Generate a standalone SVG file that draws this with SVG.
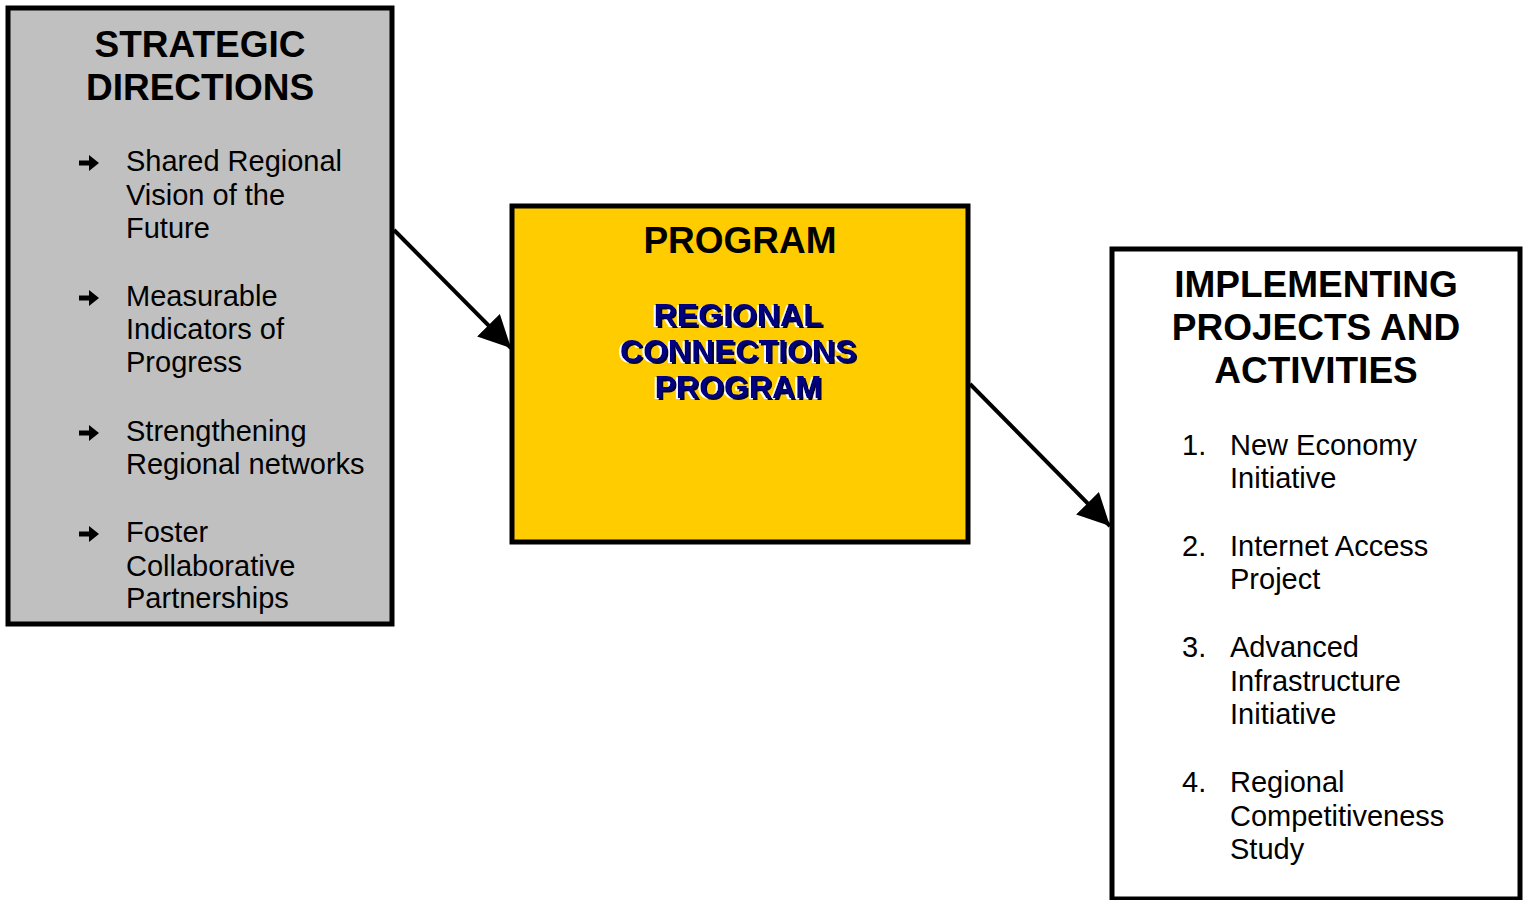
<svg xmlns="http://www.w3.org/2000/svg" width="1527" height="900" viewBox="0 0 1527 900">
<defs>
<style>
.box{stroke:#000;stroke-width:5}
.h{font-family:"Liberation Sans",Arial,sans-serif;font-weight:bold;font-size:37px;text-anchor:middle;fill:#000}
.t{font-family:"Liberation Sans",Arial,sans-serif;font-size:29px;fill:#000}
.rc{font-family:"Liberation Sans",Arial,sans-serif;font-weight:bold;font-size:32px;text-anchor:middle;fill:#000080;filter:url(#emb)}
.conn{stroke:#000;stroke-width:4;fill:none}
</style>
<filter id="emb" x="-10%" y="-30%" width="120%" height="160%">
<feOffset in="SourceAlpha" dx="-2" dy="1" result="o1"/>
<feFlood flood-color="#ffffff"/>
<feComposite operator="in" in2="o1" result="w"/>
<feOffset in="SourceAlpha" dx="2" dy="2" result="o2"/>
<feFlood flood-color="#000033"/>
<feComposite operator="in" in2="o2" result="d"/>
<feMerge><feMergeNode in="w"/><feMergeNode in="d"/><feMergeNode in="SourceGraphic"/></feMerge>
</filter>
<marker id="ah" viewBox="0 0 10 10" refX="10" refY="5" markerWidth="8" markerHeight="8" markerUnits="strokeWidth" orient="auto">
<path d="M0,0 L10,5 L0,10 Z" fill="#000"/>
</marker>
<path id="blt" d="M-10,-2.5 h10 v-5.5 l10,8 l-10,8 v-5.5 h-10 z" fill="#000"/>
</defs>
<rect width="1527" height="900" fill="#fff"/>
<g id="connectors">
<line class="conn" x1="394" y1="230" x2="511" y2="348" marker-end="url(#ah)"/>
<line class="conn" x1="970" y1="384" x2="1110" y2="526" marker-end="url(#ah)"/>
</g>
<g id="strategic">
<rect class="box" x="8" y="8" width="384" height="616" fill="#c0c0c0"/>
<text class="h" x="200" y="57">STRATEGIC</text>
<text class="h" x="200" y="100">DIRECTIONS</text>
<use href="#blt" x="89" y="163"/>
<use href="#blt" x="89" y="298"/>
<use href="#blt" x="89" y="433"/>
<use href="#blt" x="89" y="534"/>
<text class="t" x="126" y="171">Shared Regional</text>
<text class="t" x="126" y="205">Vision of the</text>
<text class="t" x="126" y="238">Future</text>
<text class="t" x="126" y="306">Measurable</text>
<text class="t" x="126" y="339">Indicators of</text>
<text class="t" x="126" y="372">Progress</text>
<text class="t" x="126" y="441">Strengthening</text>
<text class="t" x="126" y="474">Regional networks</text>
<text class="t" x="126" y="542">Foster</text>
<text class="t" x="126" y="576">Collaborative</text>
<text class="t" x="126" y="608">Partnerships</text>
</g>
<g id="program">
<rect class="box" x="512" y="206" width="456" height="336" fill="#ffcc00"/>
<text class="h" x="740" y="253">PROGRAM</text>
<text class="rc" x="738" y="326">REGIONAL</text>
<text class="rc" x="738" y="362">CONNECTIONS</text>
<text class="rc" x="738" y="398">PROGRAM</text>
</g>
<g id="implementing">
<rect class="box" x="1112" y="249" width="408" height="650" fill="#fff"/>
<text class="h" x="1316" y="297">IMPLEMENTING</text>
<text class="h" x="1316" y="340">PROJECTS AND</text>
<text class="h" x="1316" y="383">ACTIVITIES</text>
<text class="t" x="1182" y="455">1.</text>
<text class="t" x="1230" y="455">New Economy</text>
<text class="t" x="1230" y="488">Initiative</text>
<text class="t" x="1182" y="556">2.</text>
<text class="t" x="1230" y="556">Internet Access</text>
<text class="t" x="1230" y="589">Project</text>
<text class="t" x="1182" y="657">3.</text>
<text class="t" x="1230" y="657">Advanced</text>
<text class="t" x="1230" y="691">Infrastructure</text>
<text class="t" x="1230" y="724">Initiative</text>
<text class="t" x="1182" y="792">4.</text>
<text class="t" x="1230" y="792">Regional</text>
<text class="t" x="1230" y="826">Competitiveness</text>
<text class="t" x="1230" y="859">Study</text>
</g>
</svg>
